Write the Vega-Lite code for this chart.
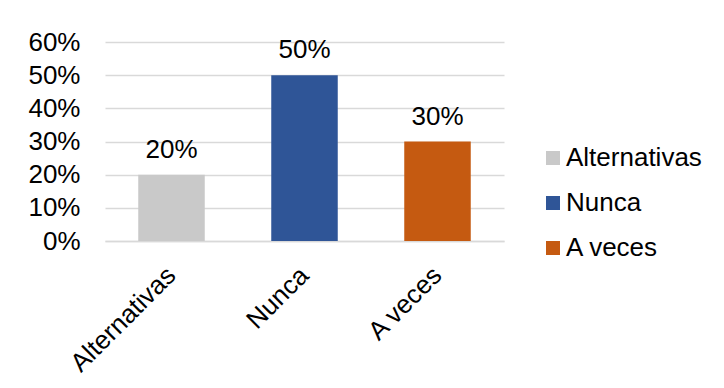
{
  "$schema": "https://vega.github.io/schema/vega-lite/v6.json",
  "autosize": "none",
  "width": 399,
  "height": 199,
  "padding": {"left": 105, "top": 42, "right": 220, "bottom": 147},
  "background": "white",
  "config": {
    "font": "Liberation Sans",
    "view": {"stroke": null}
  },
  "data": {
    "values": [
      {"categoria": "Alternativas", "valor": 0.2},
      {"categoria": "Nunca", "valor": 0.5},
      {"categoria": "A veces", "valor": 0.3}
    ]
  },
  "encoding": {
    "x": {
      "field": "categoria",
      "type": "nominal",
      "sort": null,
      "title": null,
      "scale": {"paddingInner": 0.5, "paddingOuter": 0.25},
      "axis": {
        "labelAngle": -45,
        "labelAlign": "right",
        "labelBaseline": "middle",
        "labelPadding": 30,
        "labelFontSize": 26,
        "labelColor": "#000000",
        "ticks": false,
        "domainColor": "#d9d9d9",
        "domainWidth": 1.5
      }
    },
    "y": {
      "field": "valor",
      "type": "quantitative",
      "title": null,
      "scale": {"domain": [0, 0.6], "nice": false},
      "axis": {
        "format": ".0%",
        "values": [0, 0.1, 0.2, 0.3, 0.4, 0.5, 0.6],
        "labelFontSize": 26,
        "labelColor": "#000000",
        "labelPadding": 25,
        "ticks": false,
        "domain": false,
        "gridColor": "#d9d9d9",
        "gridWidth": 1.5
      }
    }
  },
  "layer": [
    {
      "mark": {"type": "bar"},
      "encoding": {
        "color": {
          "field": "categoria",
          "type": "nominal",
          "sort": null,
          "title": null,
          "scale": {
            "domain": ["Alternativas", "Nunca", "A veces"],
            "range": ["#c9c9c9", "#2f5597", "#c55a11"]
          },
          "legend": {
            "orient": "none",
            "legendX": 435,
            "legendY": 103,
            "symbolType": "square",
            "symbolSize": 196,
            "symbolStrokeWidth": 0,
            "labelFontSize": 26,
            "labelColor": "#000000",
            "labelOffset": 0,
            "rowPadding": 19
          }
        }
      }
    },
    {
      "mark": {"type": "text", "baseline": "alphabetic", "dy": -17, "fontSize": 26, "color": "#000000"},
      "encoding": {
        "text": {"field": "valor", "type": "quantitative", "format": ".0%"}
      }
    }
  ]
}
